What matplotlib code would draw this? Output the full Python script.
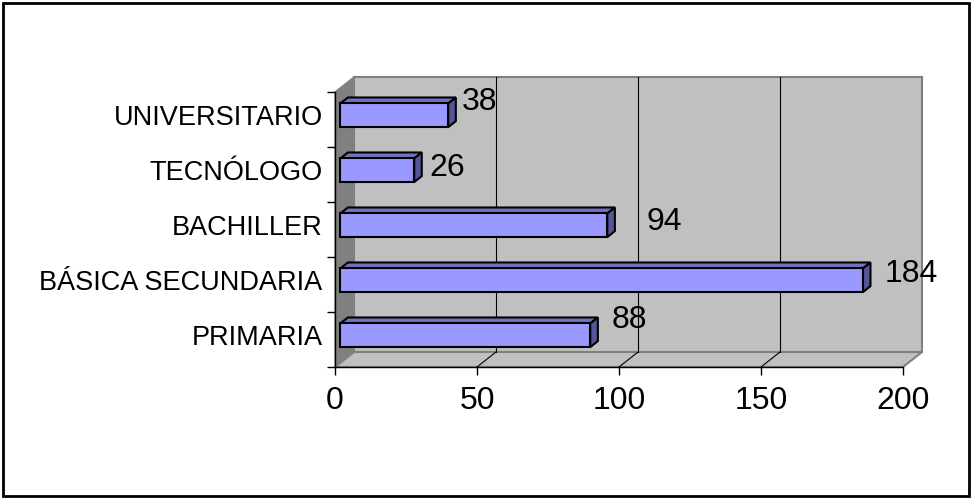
import matplotlib
matplotlib.use('Agg')
import matplotlib.pyplot as plt
from matplotlib.patches import Polygon, Rectangle
from matplotlib.transforms import IdentityTransform

plt.rcParams['font.family'] = ['Liberation Sans', 'DejaVu Sans']

# data (bottom to top)
categories = ['PRIMARIA', 'BÁSICA SECUNDARIA', 'BACHILLER', 'TECNÓLOGO', 'UNIVERSITARIO']
values = [88, 184, 94, 26, 38]
x_ticks = [0, 50, 100, 150, 200]

# label nudges in pixels (dx, dy) from bar end at band centre
label_nudge = [(27, 19), (27, 10), (45, 7), (21, 6), (19, 17)]

W, H = 972, 499
DX, DY = 19, 15          # depth offset of the back wall, pixels
D0, D1 = 0.28, 0.68      # bar front / back depth
BH = 0.43                # bar thickness in category units

fig = plt.figure(figsize=(W / 100, H / 100), dpi=100)
ax = fig.add_axes([335 / W, 1 - 367 / H, (903 - 335) / W, (367 - 92) / H])
ax.set_xlim(0, 200)
ax.set_ylim(0, len(categories))
ax.patch.set_visible(False)


def pt(x, y, d):
    px, py = ax.transData.transform((x, y))
    return (px + d * DX, py + d * DY)


def poly(pts, fc, ec, lw, z):
    p = Polygon(pts, closed=True, facecolor=fc, edgecolor=ec, linewidth=lw,
                transform=IdentityTransform(), clip_on=False, zorder=z,
                joinstyle='miter')
    ax.add_artist(p)


def line(p0, p1, color, lw, z):
    ax.add_artist(plt.Line2D([p0[0], p1[0]], [p0[1], p1[1]], color=color, lw=lw,
                             transform=IdentityTransform(), clip_on=False, zorder=z))


n = len(categories)
# back wall
poly([pt(0, 0, 1), pt(200, 0, 1), pt(200, n, 1), pt(0, n, 1)], '#c0c0c0', '#808080', 1.5, 0.5)
# floor
poly([pt(0, 0, 0), pt(200, 0, 0), pt(200, 0, 1), pt(0, 0, 1)], '#c0c0c0', '#808080', 1.5, 0.6)
# left wall
poly([pt(0, 0, 0), pt(0, n, 0), pt(0, n, 1), pt(0, 0, 1)], '#808080', '#808080', 1.0, 0.7)

# gridlines
for xv in x_ticks[1:-1]:
    line(pt(xv, 0, 1), pt(xv, n, 1), 'black', 0.8, 0.8)
    line(pt(xv, 0, 0), pt(xv, 0, 1), 'black', 0.8, 0.8)

# bars
for i, v in enumerate(values):
    y0, y1 = i + 0.5 - BH / 2, i + 0.5 + BH / 2
    poly([pt(0, y1, D0), pt(v, y1, D0), pt(v, y1, D1), pt(0, y1, D1)], '#7272c0', 'black', 1.5, 2)
    poly([pt(v, y0, D0), pt(v, y1, D0), pt(v, y1, D1), pt(v, y0, D1)], '#555598', 'black', 1.5, 2)
    poly([pt(0, y0, D0), pt(v, y0, D0), pt(v, y1, D0), pt(0, y1, D0)], '#9999ff', 'black', 1.5, 2.1)
    dx, dy = label_nudge[i]
    ax.annotate(str(v), xy=(v, i + 0.5), xytext=(dx, dy), textcoords='offset pixels',
                ha='left', va='center', fontsize=23, annotation_clip=False, zorder=3)

# axes
for s in ['top', 'right']:
    ax.spines[s].set_visible(False)
for s in ['left', 'bottom']:
    ax.spines[s].set_color('black')
    ax.spines[s].set_linewidth(1.0)
    ax.spines[s].set_zorder(2.5)

ax.set_xticks(x_ticks)
ax.set_xticklabels([str(t) for t in x_ticks])
ax.tick_params(axis='x', direction='out', length=5.5, width=1, pad=8, labelsize=23)

ax.set_yticks(range(n + 1))
ax.set_yticklabels([])
ax.set_yticks([i + 0.58 for i in range(n)], minor=True)
ax.set_yticklabels(categories, minor=True)
ax.tick_params(axis='y', which='major', direction='out', length=6, width=1)
ax.tick_params(axis='y', which='minor', length=0, pad=9, labelsize=19.5)

# chart border
fig.add_artist(Rectangle((3 / W, 3 / H), 966 / W, 493 / H, transform=fig.transFigure,
                         fill=False, edgecolor='black', linewidth=2.0))

fig.savefig('out.png', dpi=100)
